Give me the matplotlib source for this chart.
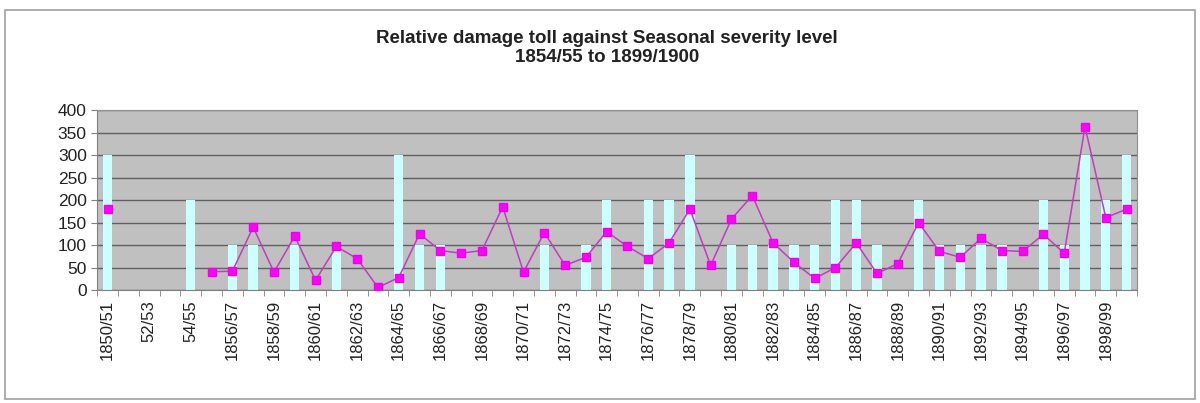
import numpy as np
import matplotlib
matplotlib.use("Agg")
import matplotlib.pyplot as plt
from matplotlib.patches import Rectangle

plt.rcParams['font.family'] = ['Liberation Sans', 'DejaVu Sans']

# seasons 1850/51 .. 1899/1900, one category each
n_seasons = 50
tick_labels = ['1850/51', '52/53', '54/55', '1856/57', '1858/59', '1860/61',
               '1862/63', '1864/65', '1866/67', '1868/69', '1870/71', '1872/73',
               '1874/75', '1876/77', '1878/79', '1880/81', '1882/83', '1884/85',
               '1886/87', '1888/89', '1890/91', '1892/93', '1894/95', '1896/97',
               '1898/99']

# seasonal severity level (bars)
severity = [300, 0, 0, 0, 200, 0, 100, 100, 0, 100,
            0, 100, 0, 0, 300, 100, 100, 0, 0, 0,
            0, 100, 0, 100, 200, 0, 200, 200, 300, 0,
            100, 100, 100, 100, 100, 200, 200, 100, 0, 200,
            100, 100, 100, 100, 0, 200, 100, 300, 200, 300]

# relative damage toll (line), nan = no record
damage = [180, np.nan, np.nan, np.nan, np.nan, 41, 42, 140, 40, 120,
          22, 97, 70, 6, 28, 125, 88, 82, 88, 185,
          40, 128, 55, 73, 130, 97, 70, 105, 180, 55,
          158, 210, 105, 62, 26, 50, 105, 37, 59, 150,
          86, 73, 115, 88, 86, 124, 82, 363, 161, 180]

x = np.arange(n_seasons)

fig = plt.figure(figsize=(12, 4.03), dpi=100)
fig.patch.set_facecolor('white')
fig.patches.append(Rectangle((0.004, 0.01), 0.992, 0.965, transform=fig.transFigure,
                             fill=False, edgecolor='#a0a0a0', linewidth=1.2))

ax = fig.add_axes([0.081, 0.28, 0.8665, 0.447])
ax.set_facecolor('#c0c0c0')

ax.bar(x, severity, width=0.45, color='#ccffff', zorder=2)
ax.plot(x, damage, color='#c03cc0', linewidth=1.1, marker='s', markersize=6,
        markerfacecolor='#ff00ff', markeredgecolor='#ee00ee', zorder=3)

ax.set_xlim(-0.5, n_seasons - 0.5)
ax.set_ylim(0, 400)
ax.set_yticks(np.arange(0, 401, 50))
ax.yaxis.grid(True, color='#606060', linewidth=1.0, zorder=1)
ax.set_axisbelow(True)

ax.set_xticks(x[::2])
ax.set_xticklabels(tick_labels, rotation=90, fontsize=12, color='#222222')
ax.set_xticks(np.arange(-0.5, n_seasons, 1), minor=True)
ax.tick_params(axis='x', which='major', length=0, pad=7)
ax.tick_params(axis='x', which='minor', length=4, color='#808080')
ax.tick_params(axis='y', labelsize=12.5, labelcolor='#222222', length=4, color='#808080')

for side in ['top', 'right']:
    ax.spines[side].set_color('#909090')
for side in ['left', 'bottom']:
    ax.spines[side].set_color('#808080')

fig.text(0.506, 0.881, 'Relative damage toll against Seasonal severity level\n1854/55 to 1899/1900',
         ha='center', va='center', fontsize=13.5, fontweight='bold', color='#222222',
         linespacing=1.15)

fig.savefig('out.png', dpi=100)
